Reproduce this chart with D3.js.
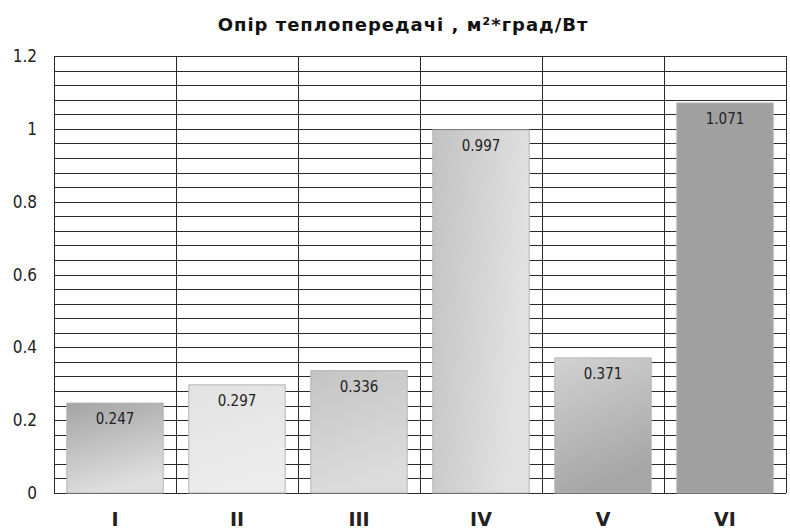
<!DOCTYPE html>
<html>
<head>
<meta charset="utf-8">
<script src="https://cdn.jsdelivr.net/npm/d3@7"></script>
<style>
  body { margin: 0; background: #fff; }
  svg { display: block; font-family: "DejaVu Sans Condensed", "DejaVu Sans", sans-serif; }
</style>
</head>
<body>
<script>
const categories = ["I", "II", "III", "IV", "V", "VI"];
const values = [0.247, 0.297, 0.336, 0.997, 0.371, 1.071];
const yTicks = [0, 0.2, 0.4, 0.6, 0.8, 1, 1.2];
const title = "Опір теплопередачі , м²*град/Вт";

// gradient stops per bar: [top-left, bottom-right]
const barShades = [
    ["#a4a4a4", "#dedede"],
    ["#e2e2e2", "#ececec"],
    ["#c4c4c4", "#dcdcdc"],
    ["#c2c2c2", "#e2e2e2"],
    ["#d2d2d2", "#a6a6a6"],
    ["#a0a0a0", "#a0a0a0"]
];

const width = 790, height = 530;
const margin = {top: 56, right: 4, bottom: 37, left: 54};

const svg = d3.select("body").append("svg")
    .attr("width", width)
    .attr("height", height);

const x = d3.scaleBand()
    .domain(categories)
    .range([margin.left, width - margin.right])
    .paddingInner(0.21)
    .paddingOuter(0.105);

const y = d3.scaleLinear()
    .domain([0, 1.2])
    .range([height - margin.bottom, margin.top]);

const defs = svg.append("defs");
barShades.forEach((s, i) => {
    const g = defs.append("linearGradient")
        .attr("id", "g" + i)
        .attr("x1", "0").attr("y1", "0")
        .attr("x2", i === 3 ? "1" : "0.3").attr("y2", i === 3 ? "0.3" : "1");
    g.append("stop").attr("offset", "0").attr("stop-color", s[0]);
    g.append("stop").attr("offset", "1").attr("stop-color", s[1]);
});

// horizontal grid every 0.04
const gridVals = d3.range(0, 31).map(d => d * 0.04);
svg.append("g")
    .selectAll("line")
    .data(gridVals)
    .join("line")
    .attr("x1", margin.left)
    .attr("x2", width - margin.right)
    .attr("y1", d => Math.round(y(d)) + 0.5)
    .attr("y2", d => Math.round(y(d)) + 0.5)
    .attr("stroke", "#2a2a2a")
    .attr("stroke-width", 1);

// vertical grid at band edges
const edges = d3.range(0, categories.length + 1).map(i => margin.left + i * (width - margin.right - margin.left) / categories.length);
svg.append("g")
    .selectAll("line")
    .data(edges)
    .join("line")
    .attr("x1", d => Math.round(d) + 0.5)
    .attr("x2", d => Math.round(d) + 0.5)
    .attr("y1", y(1.2))
    .attr("y2", y(0))
    .attr("stroke", "#2a2a2a")
    .attr("stroke-width", 1);

// bars
svg.append("g")
    .selectAll("rect")
    .data(values)
    .join("rect")
    .attr("x", (d, i) => x(categories[i]))
    .attr("y", d => y(d))
    .attr("width", x.bandwidth())
    .attr("height", d => y(0) - y(d))
    .attr("fill", (d, i) => `url(#g${i})`)
    .attr("stroke", "#b4b4b4")
    .attr("stroke-width", 1);

// value labels
svg.append("g")
    .selectAll("text")
    .data(values)
    .join("text")
    .attr("x", (d, i) => x(categories[i]) + x.bandwidth() / 2)
    .attr("y", d => y(d) + 21)
    .attr("text-anchor", "middle")
    .attr("font-size", 15)
    .attr("fill", "#222")
    .text(d => d3.format(".3f")(d));

// y tick labels
svg.append("g")
    .selectAll("text")
    .data(yTicks)
    .join("text")
    .attr("x", 37)
    .attr("y", d => y(d) + 6)
    .attr("text-anchor", "end")
    .attr("font-size", 17)
    .attr("fill", "#222")
    .text(d => d);

// x category labels
svg.append("g")
    .selectAll("text")
    .data(categories)
    .join("text")
    .attr("x", d => x(d) + x.bandwidth() / 2)
    .attr("y", 526)
    .attr("text-anchor", "middle")
    .attr("font-family", "DejaVu Sans, sans-serif")
    .attr("font-size", 19)
    .attr("font-weight", "bold")
    .attr("fill", "#222")
    .text(d => d);

// title
svg.append("text")
    .attr("x", 403)
    .attr("y", 31)
    .attr("text-anchor", "middle")
    .attr("font-family", "DejaVu Sans, sans-serif")
    .attr("font-size", 18)
    .attr("font-weight", "bold")
    .attr("letter-spacing", 1)
    .attr("fill", "#111")
    .text(title);
</script>
</body>
</html>
